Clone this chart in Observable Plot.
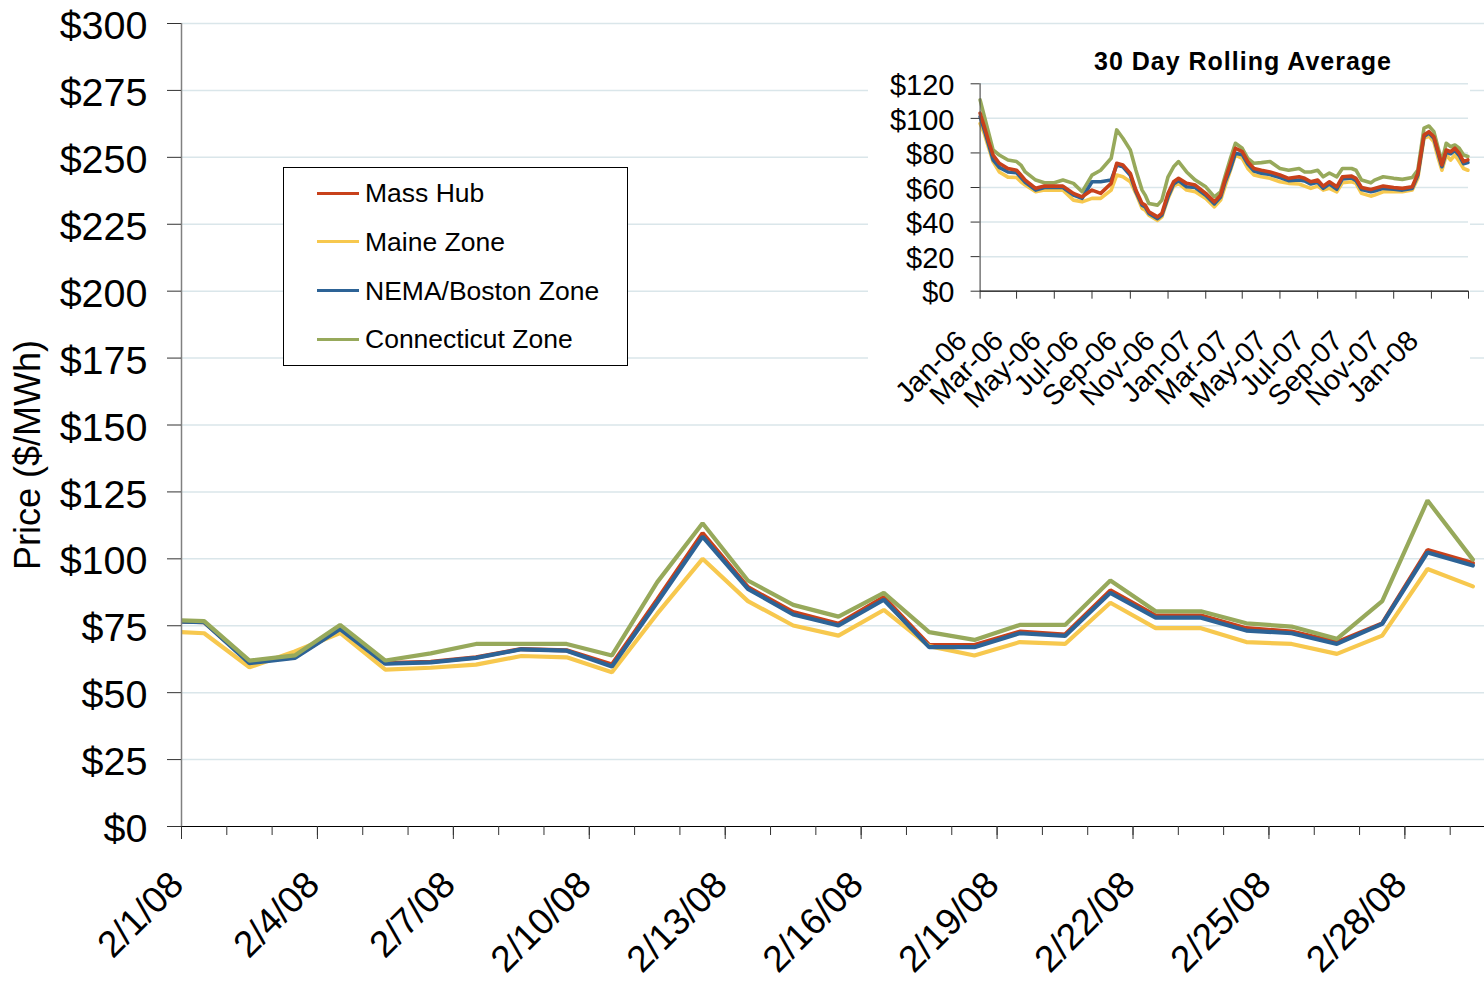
<!DOCTYPE html>
<html><head><meta charset="utf-8">
<script src="https://cdn.jsdelivr.net/npm/d3@7"></script>
<script src="https://cdn.jsdelivr.net/npm/@observablehq/plot@0.6"></script>
<style>
html,body{margin:0;padding:0;background:#fff;overflow:hidden;}
#wrap{position:relative;width:1484px;height:985px;overflow:hidden;font-family:"Liberation Sans",Arial,sans-serif;background:#fff;}
#wrap svg{position:absolute;}
#legend{position:absolute;left:283px;top:167px;width:343px;height:197px;border:1px solid #000;background:#fff;}
.lgline{position:absolute;left:33px;width:42px;height:3px;}
.lgtext{position:absolute;left:81px;font-size:26.5px;line-height:26px;white-space:nowrap;color:#000;}
#insetTitle{position:absolute;left:1043px;top:49px;width:400px;text-align:center;font-weight:bold;font-size:25px;line-height:25px;letter-spacing:1px;color:#000;}
</style></head><body><div id="wrap"></div>
<script>
// ---------- main chart data ----------
const seriesNames = ["Mass Hub", "Maine Zone", "NEMA/Boston Zone", "Connecticut Zone"];
const seriesColors = ["#c8411b", "#f7c84e", "#2d6396", "#97a95b"];
const days = ["2008-01-31","2008-02-01","2008-02-02","2008-02-03","2008-02-04","2008-02-05","2008-02-06","2008-02-07","2008-02-08","2008-02-09","2008-02-10","2008-02-11","2008-02-12","2008-02-13","2008-02-14","2008-02-15","2008-02-16","2008-02-17","2008-02-18","2008-02-19","2008-02-20","2008-02-21","2008-02-22","2008-02-23","2008-02-24","2008-02-25","2008-02-26","2008-02-27","2008-02-28","2008-02-29"];
const massHub = [77.0, 76.3, 61.5, 63.2, 74.0, 61.0, 61.5, 63.2, 66.3, 65.8, 60.5, 84.8, 109.6, 89.4, 80.1, 75.7, 85.7, 67.8, 67.8, 72.8, 71.7, 88.2, 78.8, 78.8, 74.1, 72.8, 68.9, 75.9, 103.3, 98.4];
const maineZone = [73.0, 72.2, 59.5, 65.4, 72.3, 58.6, 59.3, 60.5, 63.7, 63.2, 57.6, 79.5, 100.0, 84.2, 75.1, 71.3, 80.9, 67.4, 63.9, 68.9, 68.2, 83.6, 74.1, 74.1, 68.9, 68.2, 64.5, 71.3, 96.2, 89.7];
const nemaZone = [76.8, 76.3, 61.0, 63.0, 73.8, 60.8, 61.3, 63.0, 66.2, 65.7, 59.8, 83.8, 108.3, 88.8, 79.2, 75.1, 84.7, 67.0, 67.0, 72.2, 71.2, 87.3, 78.0, 78.0, 73.2, 72.2, 68.2, 75.7, 102.4, 97.5];
const ctZone = [77.3, 76.7, 62.0, 63.9, 75.3, 62.0, 64.7, 68.2, 68.2, 68.2, 63.9, 91.3, 113.3, 91.9, 82.8, 78.4, 87.3, 72.6, 69.7, 75.3, 75.3, 91.9, 80.4, 80.4, 75.9, 74.7, 70.1, 84.2, 121.8, 99.7];
const yTicks = [0, 25, 50, 75, 100, 125, 150, 175, 200, 225, 250, 275, 300];
const yTickLabels = ["$0","$25","$50","$75","$100","$125","$150","$175","$200","$225","$250","$275","$300"];
const xTickLabels = ["2/1/08","2/4/08","2/7/08","2/10/08","2/13/08","2/16/08","2/19/08","2/22/08","2/25/08","2/28/08"];
const yAxisTitle = "Price ($/MWh)";

// ---------- inset data (30 day rolling average) ----------
const insetTitle = "30 Day Rolling Average";
const insetDates = ["2006-01-01","2006-01-08","2006-01-15","2006-01-22","2006-02-01","2006-02-15","2006-03-01","2006-03-08","2006-03-15","2006-04-01","2006-04-15","2006-05-01","2006-05-15","2006-06-01","2006-06-15","2006-07-01","2006-07-15","2006-08-01","2006-08-10","2006-08-20","2006-09-01","2006-09-10","2006-09-20","2006-09-25","2006-10-01","2006-10-15","2006-10-22","2006-11-01","2006-11-10","2006-11-18","2006-12-01","2006-12-15",
"2007-01-01","2007-01-15","2007-01-25","2007-02-01","2007-02-10","2007-02-18","2007-03-01","2007-03-10","2007-03-20","2007-04-01","2007-04-15","2007-05-01","2007-05-15","2007-06-01","2007-06-10","2007-06-20","2007-07-01","2007-07-10","2007-07-20","2007-08-01","2007-08-10","2007-08-25","2007-09-01","2007-09-10","2007-09-25","2007-10-01","2007-10-15","2007-11-01","2007-11-15","2007-12-01","2007-12-10","2007-12-20","2007-12-28",
"2008-01-05","2008-01-12","2008-01-18","2008-01-25","2008-02-01","2008-02-08","2008-02-15","2008-02-22","2008-02-29"];
const avgMassHub = [103, 95, 86.5, 78.8, 74, 71, 70, 67.2, 64.3, 59.5, 60.8, 60.8, 60.8, 56.6, 54.6, 58.5, 56.6, 62.4, 74, 73, 68.2, 58.5, 50.8, 49.8, 46, 43, 45, 56.6, 63.3, 65.3, 62.4, 61.4,
 56.6, 51.7, 55.6, 64.3, 74, 82.7, 80.7, 75, 71, 70, 69, 67.2, 65.3, 66.2, 65.3, 63.3, 64.3, 60.8, 63.3, 60.4, 66.2, 66.6, 65.3, 60, 58.9, 59.5, 60.8, 60, 59.5, 60.4, 68.2, 90.4, 92.3,
 89.4, 80.7, 73, 81.7, 80.7, 82.7, 79.8, 75, 76];
const avgMaine = [97, 91, 82.7, 75, 69, 66, 65.8, 63.3, 61.4, 57.5, 58.5, 58.5, 58.5, 52.7, 51.7, 53.7, 53.7, 58.5, 67.2, 66.2, 63.3, 56.6, 47.9, 46.9, 44, 41, 43, 53.7, 60.8, 62.4, 58.5, 57.5,
 53.7, 48.8, 52.7, 60.4, 70, 78.8, 76.9, 71, 67.2, 66.2, 65.3, 63.3, 62.4, 62, 60.8, 59.5, 60.8, 58.5, 59.5, 57.5, 62.7, 63.3, 62.4, 56.6, 55, 55.6, 57.5, 57.5, 57.5, 58.5, 65.3, 88.5, 89.8,
 86.5, 76.9, 70, 78.8, 75.9, 78.8, 75, 71, 70];
const avgNema = [101, 93, 84.6, 76, 71.6, 69, 68.5, 65.8, 63, 58.5, 60, 60, 60, 55.6, 53.7, 63.3, 63.3, 64.3, 73, 72, 67, 57.5, 49.8, 48.8, 45, 42, 44, 54.6, 62, 64, 60.4, 60,
 55.5, 50.5, 54.5, 62.8, 71, 79.8, 79, 73.5, 69.5, 68.2, 67.5, 65.8, 64, 64.3, 63.8, 62, 63, 59.5, 62, 59, 65, 65.5, 64, 58.8, 57.5, 58, 59.5, 59, 58.5, 59.5, 67, 89.5, 91.5,
 88.5, 79.5, 72, 80.5, 79.5, 81.5, 78.5, 73.8, 74.5];
const avgCt = [110.7, 101, 91.4, 81.7, 78.8, 75.9, 75, 73, 69, 64.3, 62.7, 62.7, 64.3, 62.4, 57.5, 67.2, 70, 76.9, 93.3, 88.5, 81.7, 70, 58.5, 55.6, 50.8, 49.8, 52.7, 66.2, 72, 75, 69, 64.3,
 60.4, 54.6, 57.5, 66.2, 76.9, 85.6, 82.7, 76.9, 74, 74.4, 75, 71, 70, 71, 69, 69, 70, 66.2, 68.4, 66.2, 71, 71, 70, 64.3, 62.7, 64.3, 66.2, 65.3, 64.7, 65.8, 70, 94.3, 95.6,
 92.3, 82.7, 75, 85.6, 83.6, 84.6, 82.7, 78.8, 77.9];
const insetYTicks = [0, 20, 40, 60, 80, 100, 120];
const insetYLabels = ["$0","$20","$40","$60","$80","$100","$120"];
const insetTickDates = ["2006-01-01","2006-03-01","2006-05-01","2006-07-01","2006-09-01","2006-11-01","2007-01-01","2007-03-01","2007-05-01","2007-07-01","2007-09-01","2007-11-01","2008-01-01","2008-03-01"];
const insetXLabels = ["Jan-06","Mar-06","May-06","Jul-06","Sep-06","Nov-06","Jan-07","Mar-07","May-07","Jul-07","Sep-07","Nov-07","Jan-08"];

// ---------- build ----------
const FONT = "Liberation Sans, Arial, sans-serif";
const GRID = "#dae6ea";
const utc = s => new Date(s + "T00:00:00Z");
const noon = s => new Date(s + "T12:00:00Z");

const mainSeries = [massHub, maineZone, nemaZone, ctZone];
const mainRows = mainSeries.map((vals, k) => vals.map((v, i) => ({date: noon(days[i]), value: v, k})));

const xDomain = [utc("2008-02-01"), utc("2008-03-01")];
const boundaries = d3.utcDay.range(xDomain[0], d3.utcDay.offset(xDomain[1], 1));
const majorBoundaries = boundaries.filter((d, i) => i % 3 === 0);
const labelDates = xTickLabels.map(s => { const [m, d, y] = s.split("/").map(Number); return new Date(Date.UTC(2000 + y, m - 1, d, 12)); });

const lineMark = (k, w) => Plot.line(mainRows[k], {x: "date", y: "value", stroke: seriesColors[k], strokeWidth: w, strokeLinejoin: "miter", clip: true});

const main = Plot.plot({
  width: 1484, height: 985,
  marginLeft: 181, marginTop: 23, marginBottom: 159, marginRight: 0,
  x: {type: "utc", domain: xDomain, range: [181, 1495], label: null},
  y: {domain: [0, 300], label: null},
  style: {fontFamily: FONT, background: "transparent", overflow: "hidden"},
  marks: [
    Plot.ruleY(yTicks.filter(v => v > 0), {stroke: GRID, strokeWidth: 1.5}),
    lineMark(0, 4.2), lineMark(1, 4.2), lineMark(2, 4.2), lineMark(3, 4.2),
    Plot.ruleX([xDomain[0]], {stroke: "#808080", strokeWidth: 1.5}),
    Plot.ruleY([0], {stroke: "#000", strokeWidth: 1.2}),
    Plot.axisY({ticks: yTicks, tickSize: 14, tickFormat: () => "", stroke: "#333"}),
    Plot.text(yTicks, {y: d => d, text: (d, i) => yTickLabels[i], frameAnchor: "left", textAnchor: "end", dx: -34, dy: 3, fontSize: 39.5}),
    Plot.axisX({ticks: boundaries, tickSize: 9, tickFormat: () => "", stroke: "#333"}),
    Plot.axisX({ticks: majorBoundaries, tickSize: 13, tickFormat: () => "", stroke: "#333"}),
    Plot.text(labelDates, {x: d => d, text: (d, i) => xTickLabels[i], frameAnchor: "bottom", rotate: -45, textAnchor: "end", lineAnchor: "middle", dx: -27, dy: 52, fontSize: 37}),
    Plot.text([yAxisTitle], {frameAnchor: "left", textAnchor: "middle", rotate: -90, dx: -153, dy: 30, fontSize: 36})
  ]
});
main.style.left = "0px"; main.style.top = "0px";

const wrap = document.getElementById("wrap");
wrap.appendChild(main);

// legend
const legend = document.createElement("div");
legend.id = "legend";
seriesNames.forEach((name, i) => {
  const cy = 25 + i * 48.7;
  const ln = document.createElement("div");
  ln.className = "lgline"; ln.style.top = (cy - 1.5) + "px"; ln.style.background = seriesColors[i];
  const tx = document.createElement("div");
  tx.className = "lgtext"; tx.style.top = (cy - 12.8) + "px"; tx.textContent = name;
  legend.appendChild(ln); legend.appendChild(tx);
});
wrap.appendChild(legend);

// inset
const insetSeries = [avgMassHub, avgMaine, avgNema, avgCt];
const insetRows = insetSeries.map((vals, k) => vals.map((v, i) => ({date: utc(insetDates[i]), value: v})));
const iDomain = [utc("2006-01-01"), utc("2008-03-01")];
const iLine = k => Plot.line(insetRows[k], {x: "date", y: "value", stroke: seriesColors[k], strokeWidth: 3.6, strokeLinejoin: "round"});
const inset = Plot.plot({
  width: 602, height: 376,
  marginLeft: 111.6, marginRight: 2, marginTop: 47.3, marginBottom: 121.3,
  x: {type: "utc", domain: iDomain, label: null},
  y: {domain: [0, 120], label: null},
  style: {fontFamily: FONT, background: "#fff", overflow: "visible"},
  marks: [
    Plot.ruleY(insetYTicks.filter(v => v > 0), {stroke: GRID, strokeWidth: 1.5}),
    iLine(1), iLine(3), iLine(2), iLine(0),
    Plot.ruleX([iDomain[0]], {stroke: "#555", strokeWidth: 1.2}),
    Plot.ruleY([0], {stroke: "#000", strokeWidth: 1.2}),
    Plot.axisY({ticks: insetYTicks, tickSize: 9, tickFormat: () => "", stroke: "#333"}),
    Plot.text(insetYTicks, {y: d => d, text: (d, i) => insetYLabels[i], frameAnchor: "left", textAnchor: "end", dx: -25.6, dy: 2, fontSize: 29}),
    Plot.axisX({ticks: insetTickDates.map(utc), tickSize: 8, tickFormat: () => "", stroke: "#333"}),
    Plot.text(insetTickDates.slice(0, insetXLabels.length).map(utc), {x: d => d, text: (d, i) => insetXLabels[i], frameAnchor: "bottom", rotate: -45, textAnchor: "end", lineAnchor: "middle", dx: -18, dy: 45, fontSize: 28.5})
  ]
});
inset.style.left = "868px"; inset.style.top = "36px";
wrap.appendChild(inset);

const title = document.createElement("div");
title.id = "insetTitle"; title.textContent = insetTitle;
wrap.appendChild(title);
</script>
</body></html>
